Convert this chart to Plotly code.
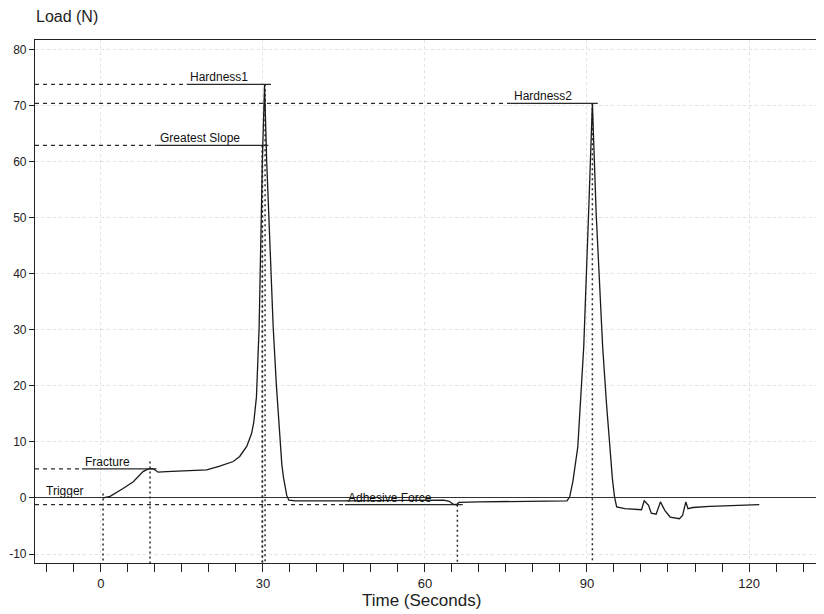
import plotly.graph_objects as go

# ---- curve data (Time s, Load N) ----
time_s = [0.4, 1.7, 4.1, 6.0, 7.8, 8.8, 9.7, 10.6, 12.1, 14.3, 19.6, 22.0, 24.5, 25.7,
          27.0, 27.9, 28.3, 28.8, 29.3, 29.9, 30.3, 30.7, 31.3, 31.9, 32.5, 33.0, 33.5,
          33.8, 34.1, 34.4, 34.8, 36.0, 45.0, 55.0, 63.5, 64.5, 65.2, 65.8, 66.3, 70.0,
          80.0, 86.3, 86.8, 87.4, 88.3, 89.4, 90.3, 91.0, 91.7, 92.3, 92.9, 93.6, 94.2,
          94.7, 95.1, 95.5, 97.0, 100.1, 100.6, 101.4, 101.9, 102.8, 103.6, 104.4, 105.4,
          107.1, 107.7, 108.3, 108.7, 109.6, 112.7, 117.0, 121.9]
load_n = [0.0, 0.3, 1.7, 2.9, 4.7, 5.2, 5.2, 4.6, 4.7, 4.8, 5.0, 5.7, 6.5, 7.4,
          9.2, 11.5, 13.5, 18.0, 30.5, 60.3, 73.7, 60.0, 45.0, 30.5, 20.0, 12.7, 6.0,
          3.7, 1.8, 0.5, -0.4, -0.5, -0.5, -0.5, -0.4, -0.6, -1.1, -1.2, -0.8, -0.7,
          -0.6, -0.5, 0.2, 3.0, 9.1, 27.0, 50.8, 70.4, 50.8, 38.0, 27.0, 17.0, 9.1,
          3.5, 0.2, -1.6, -1.9, -2.1, -0.5, -1.3, -2.7, -2.9, -0.7, -2.2, -3.4,
          -3.7, -3.1, -0.7, -1.9, -1.7, -1.5, -1.3, -1.2]

# ---- axis ticks ----
x_major = [0, 30, 60, 90, 120]
x_minor = list(range(-10, 135, 5))
y_ticks = [-10, 0, 10, 20, 30, 40, 50, 60, 70, 80]
y_tick_text = ["-10", "0", "10", "20", "30", "40", "50", "60", "70", "80"]

# ---- analysis markers ----
marker_labels = ["Hardness1", "Hardness2", "Greatest Slope", "Fracture", "Trigger", "Adhesive Force"]
marker_load = [73.8, 70.4, 62.9, 5.2, 0.0, -1.2]
label_start = [15.9, 75.9, 10.3, -3.5, -10.7, 45.2]
label_end = [31.5, 92.0, 31.0, 10.3, 0.4, 67.0]
marker_time = [30.4, 91.0, 29.9, 9.1, 0.4, 66.0]
vline_top = [73.8, 70.4, 62.9, 6.5, 0.8, -1.2]

X_MIN, X_MAX = -12.2, 133.7
Y_MIN, Y_MAX = -11.6, 81.7

fig = go.Figure()

LINE_COL = "#2a2a2a"

for i, name in enumerate(marker_labels):
    if name != "Trigger":
        # dashed leader from y axis to label start
        fig.add_trace(go.Scatter(x=[X_MIN, label_start[i]], y=[marker_load[i]] * 2, mode="lines",
                                 line=dict(color=LINE_COL, width=1.2, dash="4px,4px"),
                                 hoverinfo="skip", showlegend=False))
        # solid underline under the label
        fig.add_trace(go.Scatter(x=[label_start[i], label_end[i]], y=[marker_load[i]] * 2, mode="lines",
                                 line=dict(color=LINE_COL, width=1.2),
                                 hoverinfo="skip", showlegend=False))
    # vertical dotted line to the x axis
    fig.add_trace(go.Scatter(x=[marker_time[i]] * 2, y=[vline_top[i], Y_MIN], mode="lines",
                             line=dict(color=LINE_COL, width=1.5, dash="2px,3px"),
                             hoverinfo="skip", showlegend=False))
    fig.add_annotation(x=label_start[i] + 0.2, y=marker_load[i], text=name, showarrow=False,
                       xanchor="left", yanchor="bottom", yshift=-2,
                       font=dict(family="Liberation Sans, Arial", size=12, color="#111"))

# the extra dotted line at the Hardness1 peak
fig.add_trace(go.Scatter(x=[marker_time[0] - 0.5] * 2, y=[marker_load[2], Y_MIN], mode="lines",
                         line=dict(color=LINE_COL, width=1.5, dash="2px,3px"),
                         hoverinfo="skip", showlegend=False))

fig.add_trace(go.Scatter(x=time_s, y=load_n, mode="lines",
                         line=dict(color="#1a1a1a", width=1.3),
                         hoverinfo="skip", showlegend=False))

# page body has an 8px margin: size the figure to fit the 824x614 window
fig.update_layout(
    width=816, height=606,
    margin=dict(l=27, r=1, t=32, b=51),
    paper_bgcolor="white", plot_bgcolor="white",
    font=dict(family="Liberation Sans, Arial", size=12, color="#222"),
    showlegend=False,
)

fig.update_xaxes(
    range=[X_MIN, X_MAX], automargin=False,
    tickvals=x_major,
    ticks="outside", ticklen=8, tickcolor="#222", tickwidth=1.2,
    minor=dict(tickvals=x_minor, ticks="outside", ticklen=8,
               tickcolor="#222", tickwidth=1.2, showgrid=False),
    showgrid=True, gridcolor="#e2e2e2", griddash="dot", gridwidth=1,
    zeroline=False,
    showline=True, linecolor="#222", linewidth=1.2, mirror=True,
    tickfont=dict(size=13),
)
fig.update_yaxes(
    range=[Y_MIN, Y_MAX], automargin=False,
    tickvals=y_ticks, ticktext=y_tick_text,
    ticks="outside", ticklen=5, tickcolor="#222", tickwidth=1.2,
    showgrid=True, gridcolor="#e2e2e2", griddash="dot", gridwidth=1,
    zeroline=True, zerolinecolor="#333", zerolinewidth=1.2,
    showline=True, linecolor="#222", linewidth=1.2, mirror=True,
    tickfont=dict(size=12),
)

fig.add_annotation(xref="paper", yref="paper", x=0, y=1, xanchor="left", yanchor="bottom",
                   yshift=13, xshift=-1, text="Load (N)", showarrow=False,
                   font=dict(family="Liberation Sans, Arial", size=16, color="#222"))
fig.add_annotation(xref="paper", yref="paper", x=0.49, y=0, xanchor="center", yanchor="top",
                   yshift=-26, text="Time (Seconds)", showarrow=False,
                   font=dict(family="Liberation Sans, Arial", size=17, color="#222"))

fig.write_html("out.html")
